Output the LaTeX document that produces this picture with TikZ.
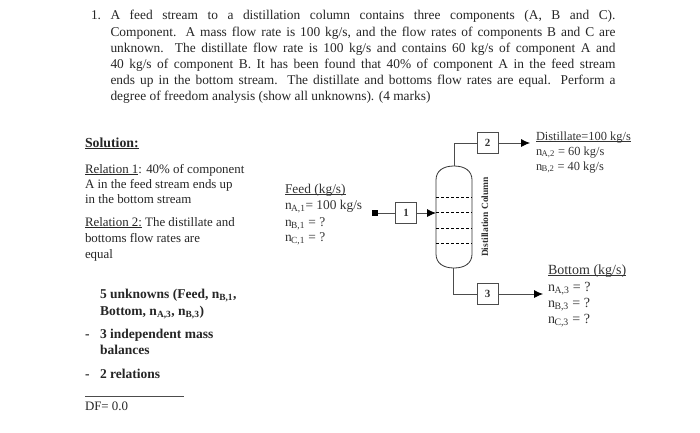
\documentclass[tikz,border=0pt]{standalone}
\usepackage{fontspec}
\setmainfont{Liberation Serif}
\usetikzlibrary{arrows.meta}
\newcommand{\nsub}[2]{n\textsubscript{\kern-0.5pt #1,#2}}
\newcommand{\ulx}[1]{\leavevmode\setbox0\hbox{#1}\rlap{\rule[-1.6pt]{\wd0}{0.6pt}}\box0{}}
\tikzset{
  x=1pt,y=-1pt,
  txt/.style={anchor=base west,inner sep=0pt,outer sep=0pt,font=\fontsize{13.4}{15}\selectfont,text=black!85},
  rel/.style={anchor=base west,inner sep=0pt,outer sep=0pt,font=\fontsize{12.9}{15}\selectfont,text=black!85},
  unk/.style={anchor=base west,inner sep=0pt,outer sep=0pt,font=\fontsize{13.5}{15}\bfseries\selectfont,text=black!85},
  sm/.style={anchor=base west,inner sep=0pt,outer sep=0pt,font=\fontsize{13.4}{15}\selectfont,text=black!80},
  smb/.style={anchor=base west,inner sep=0pt,outer sep=0pt,font=\fontsize{14}{15}\selectfont,text=black!80},
  smd/.style={anchor=base west,inner sep=0pt,outer sep=0pt,font=\fontsize{12.4}{15}\selectfont,text=black!80},
  num/.style={draw=black!70,line width=0.7pt,minimum width=21pt,minimum height=21pt,inner sep=0pt,font=\fontsize{11}{12}\bfseries\selectfont,text=black!80},
  pipe/.style={draw=black!70,line width=0.8pt},
  arr/.style={pipe,-{Latex[length=9pt,width=8pt,black]}},
  tray/.style={draw=black,line width=0.6pt,densely dashed},
}
\newcommand{\jl}[1]{\makebox[505pt][s]{#1}}
\begin{document}
\begin{tikzpicture}
\useasboundingbox (0,0) rectangle (700,432);
\fill[white] (0,0) rectangle (700,432);
% Problem statement
\node[txt] (q0) at (91,19) {1.};
\node[txt] (q1) at (110.5,19) {\jl{A feed stream to a distillation column contains three components (A, B and C).}};
\node[txt] (q2) at (110.5,36) {\jl{Component. A mass flow rate is 100 kg/s, and the flow rates of components B and C are}};
\node[txt] (q3) at (110.5,52) {\jl{unknown. The distillate flow rate is 100 kg/s and contains 60 kg/s of component A and}};
\node[txt] (q4) at (110.5,68) {\jl{40 kg/s of component B. It has been found that 40\% of component A in the feed stream}};
\node[txt] (q5) at (110.5,84) {\jl{ends up in the bottom stream. The distillate and bottoms flow rates are equal. Perform a}};
\node[txt] (q6) at (110.5,100) {degree of freedom analysis (show all unknowns). (4 marks)};
% Solution
\node[txt,font=\fontsize{13.8}{15}\bfseries\selectfont] (s0) at (85,147) {\ulx{Solution:}};
\node[rel] (s1) at (85,173) {\ulx{Relation 1}: 40\% of component};
\node[rel] (s2) at (85,188) {A in the feed stream ends up};
\node[rel] (s3) at (85,203) {in the bottom stream};
\node[rel] (s4) at (85,226) {\ulx{Relation 2:} The distillate and};
\node[rel] (s5) at (85,242) {bottoms flow rates are};
\node[rel] (s6) at (85,258) {equal};
\node[unk] (u1) at (100,298) {5 unknowns (Feed, n\textsubscript{B,1},};
\node[unk] (u2) at (100,315) {Bottom, n\textsubscript{A,3}, n\textsubscript{B,3})};
\node[unk] (d1) at (85,338) {-};
\node[unk] (u3) at (100,338) {3 independent mass};
\node[unk] (u4) at (100,354) {balances};
\node[unk] (d2) at (85,378) {-};
\node[unk] (u5) at (100,378) {2 relations};
\coordinate (ruleA) at (85,396);
\coordinate (ruleB) at (184,396);
\draw[black!70,line width=0.6pt] (ruleA) -- (ruleB);
\node[rel] (df) at (85,410) {DF= 0.0};
% Feed labels
\node[sm] (f0) at (285,193) {\ulx{Feed (kg/s)}};
\node[sm] (f1) at (285,209) {\nsub{A}{1}= 100 kg/s};
\node[sm] (f2) at (285,226) {\nsub{B}{1} = ?};
\node[sm] (f3) at (285,241) {\nsub{C}{1} = ?};
% Column
\draw[draw=black!80,line width=0.8pt,fill=white] (436,180) .. controls (436,171) and (443,166) .. (454,166) .. controls (465,166) and (472,171) .. (472,180) -- (472,254) .. controls (472,263) and (465,268) .. (454,268) .. controls (443,268) and (436,263) .. (436,254) -- cycle;
\coordinate (coltop) at (454,166);
\coordinate (colbot) at (453,268);
\coordinate (colin) at (436,213);
\draw[tray] (436,197) -- (472,197);
\draw[tray] (436,212) -- (472,212);
\draw[tray] (436,228) -- (472,228);
\draw[tray] (436,243) -- (472,243);
\node[rotate=90,inner sep=0pt,font=\fontsize{9.5}{10}\bfseries\selectfont,text=black!80] (cl) at (485,217) {Distillation Column};
% Stream boxes
\node[num] (b1) at (406,213) {1};
\node[num] (b2) at (487.5,143) {2};
\node[num] (b3) at (487.5,294) {3};
\node[fill=black,minimum size=6.5pt,inner sep=0pt] (src) at (375,213) {};
\coordinate (out2) at (530,143);
\coordinate (out3) at (543,294);
\draw[pipe] (src) -- (b1);
\draw[arr] (b1) -- (colin);
\draw[pipe] (coltop) |- (b2);
\draw[pipe] (colbot) |- (b3);
\draw[arr] (b2) -- (out2);
\draw[arr] (b3) -- (out3);
% Distillate labels
\node[smd] (t0) at (536,140) {\ulx{Distillate=100 kg/s}};
\node[smd] (t1) at (536,155) {\nsub{A}{2} = 60 kg/s};
\node[smd] (t2) at (536,170) {\nsub{B}{2} = 40 kg/s};
% Bottom labels
\node[smb] (m0) at (548,274) {\ulx{Bottom (kg/s)}};
\node[smb] (m1) at (548,291) {\nsub{A}{3} = ?};
\node[smb] (m2) at (548,307) {\nsub{B}{3} = ?};
\node[smb] (m3) at (548,323) {\nsub{C}{3} = ?};
\end{tikzpicture}
\end{document}
